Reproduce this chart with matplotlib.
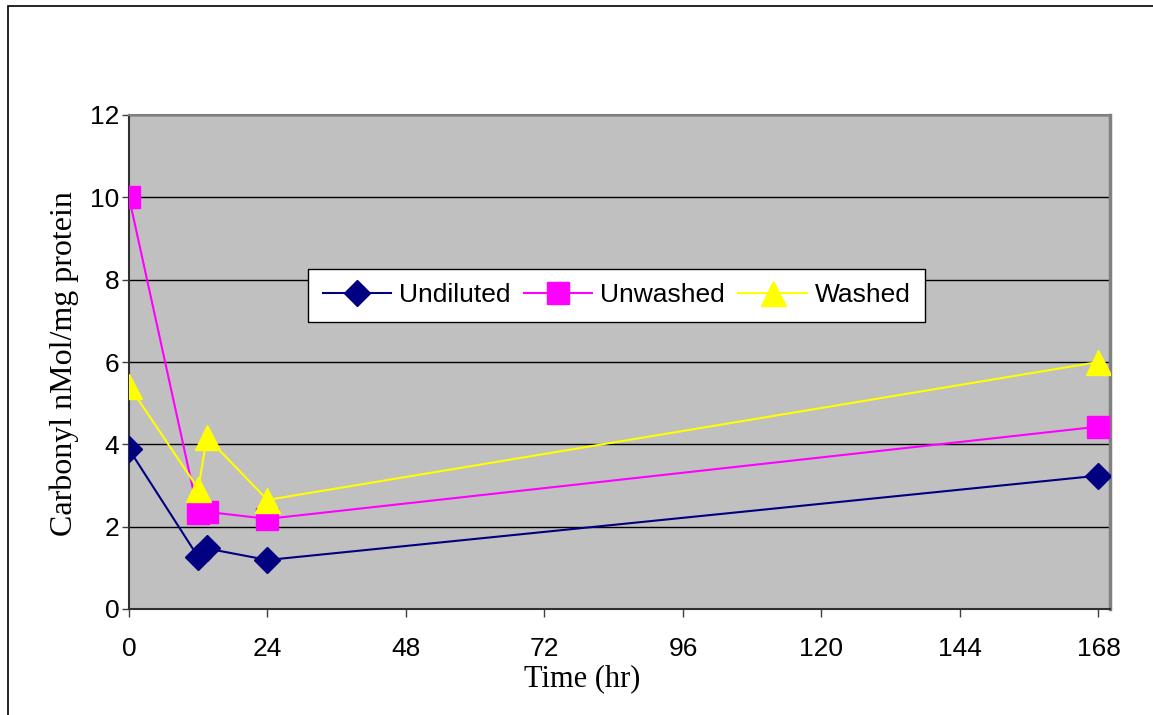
import numpy as np
import matplotlib.pyplot as plt
from matplotlib.patches import Rectangle

# Dados
tempo = [0, 12, 13.5, 24, 168]
undiluted = [3.88, 1.26, 1.47, 1.19, 3.24]
unwashed = [10.0, 2.33, 2.36, 2.19, 4.43]
washed = [5.42, 2.92, 4.17, 2.65, 6.0]
xticks = [0, 24, 48, 72, 96, 120, 144, 168]
yticks = [0, 2, 4, 6, 8, 10, 12]

plt.rcParams['font.family'] = ['Liberation Sans', 'DejaVu Sans']

fig = plt.figure(figsize=(11.53, 7.15), dpi=100)
# moldura do grafico
fig.patches.append(Rectangle((8/1153, -0.05), 1.2, 1 - 6/715 + 0.05,
                             transform=fig.transFigure, fill=False,
                             edgecolor='black', linewidth=1.2))

ax = fig.add_axes([129/1153, 1 - 609/715, 981/1153, 494/715])
ax.set_facecolor('#C0C0C0')

ax.plot(tempo, undiluted, color='#000080', lw=1.5, marker='D', ms=13.5,
        label='Undiluted', zorder=3)
ax.plot(tempo, unwashed, color='#FF00FF', lw=1.5, marker='s', ms=15.5,
        label='Unwashed', zorder=3)
ax.plot(tempo, washed, color='#FFFF00', lw=1.5, marker='^', ms=18,
        label='Washed', zorder=3)

ax.set_xlim(0, 170)
ax.set_ylim(0, 12)
ax.set_xticks(xticks)
ax.set_yticks(yticks)
ax.yaxis.grid(True, color='black', lw=1)
ax.set_axisbelow(True)
ax.tick_params(labelsize=19, direction='out', width=1, color='#404040')
ax.tick_params(axis='x', length=6, pad=14)
ax.tick_params(axis='y', length=5, pad=2)

for s in ['left', 'bottom']:
    ax.spines[s].set_color('#303030')
    ax.spines[s].set_linewidth(1.5)
ax.spines['right'].set_color('#808080')
ax.spines['right'].set_linewidth(2.5)
ax.spines['top'].set_color('#808080')
ax.spines['top'].set_linewidth(1.5)
for s in ax.spines.values():
    s.set_clip_on(False)

ax.set_xlabel("Time (hr)", family='Liberation Serif', fontsize=22)
ax.xaxis.label.set_va('center')
ax.xaxis.set_label_coords(0.462, -0.141)
ax.set_ylabel("Carbonyl nMol/mg protein", family='Liberation Serif', fontsize=23)
ax.yaxis.label.set_va('center')
ax.yaxis.set_label_coords(-0.066, 0.496)

leg = ax.legend(loc='center', bbox_to_anchor=(0.497, 0.635), ncol=3,
                fontsize=19, frameon=True, fancybox=False, edgecolor='black',
                framealpha=1, borderpad=0.55, handlelength=2.6,
                columnspacing=0.5, handletextpad=0.3)
leg.get_frame().set_linewidth(1)

fig.savefig('out.png', dpi=100)
